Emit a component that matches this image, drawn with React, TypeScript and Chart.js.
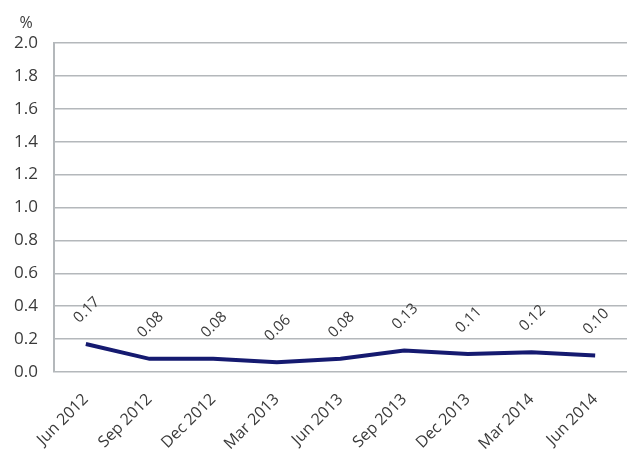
import React, { useEffect, useRef } from "react";
import { Chart, registerables } from "chart.js";

Chart.register(...registerables);

const categories = ["Jun 2012", "Sep 2012", "Dec 2012", "Mar 2013", "Jun 2013", "Sep 2013", "Dec 2013", "Mar 2014", "Jun 2014"];
const values = [0.17, 0.08, 0.08, 0.06, 0.08, 0.13, 0.11, 0.12, 0.10];
const yMin = 0;
const yMax = 2;
const yStep = 0.2;
const unitLabel = "%";

const FONT = "'Open Sans', sans-serif";
const TEXT = "#3a3a3a";
const GRID = "#b4b8bb";

const labelPlugin = {
  id: "rotLabels",
  afterDatasetsDraw(chart: any) {
    const ctx = chart.ctx;
    const meta = chart.getDatasetMeta(0);
    ctx.save();
    ctx.font = `15px ${FONT}`;
    ctx.fillStyle = TEXT;
    ctx.textAlign = "center";
    ctx.textBaseline = "middle";
    meta.data.forEach((pt: any, i: number) => {
      ctx.save();
      ctx.translate(pt.x + 1, pt.y - 34);
      ctx.rotate(-Math.PI / 4);
      ctx.fillText(values[i].toFixed(2), 0, 0);
      ctx.restore();
    });
    ctx.font = `16px ${FONT}`;
    ctx.textAlign = "center";
    ctx.fillText(unitLabel, 26, 23);
    ctx.restore();
  },
};

export default function App() {
  const ref = useRef<HTMLCanvasElement>(null);
  useEffect(() => {
    const chart = new Chart(ref.current!, {
      type: "line",
      data: {
        labels: categories,
        datasets: [
          {
            data: values,
            borderColor: "#151a70",
            borderWidth: 4,
            pointRadius: 0,
            tension: 0,
            fill: false,
          },
        ],
      },
      options: {
        animation: false,
        responsive: false,
        maintainAspectRatio: false,
        layout: { padding: { top: 43, right: 0, left: 0, bottom: 0 } },
        plugins: { legend: { display: false }, tooltip: { enabled: false } },
        scales: {
          x: {
            offset: true,
            grid: { display: false },
            border: { display: false },
            ticks: {
              minRotation: 45,
              maxRotation: 45,
              color: TEXT,
              font: { family: FONT, size: 16 },
              padding: 10,
            },
            afterFit: (s: any) => {
              s.height = 80;
            },
          },
          y: {
            min: yMin,
            max: yMax,
            grid: { color: GRID, lineWidth: 1.5, drawTicks: false },
            border: { display: true, color: GRID, width: 2 },
            ticks: {
              stepSize: yStep,
              color: TEXT,
              font: { family: FONT, size: 17 },
              padding: 16,
              callback: (v: any) => Number(v).toFixed(1),
            },
            afterFit: (s: any) => {
              s.width = 54;
            },
          },
        },
      },
      plugins: [labelPlugin],
    });
    return () => chart.destroy();
  }, []);
  return (
    <div style={{ position: "fixed", left: 0, top: 0, width: 627, height: 452, background: "#fff" }}>
      <canvas ref={ref} width={627} height={452} style={{ width: 627, height: 452 }} />
    </div>
  );
}
